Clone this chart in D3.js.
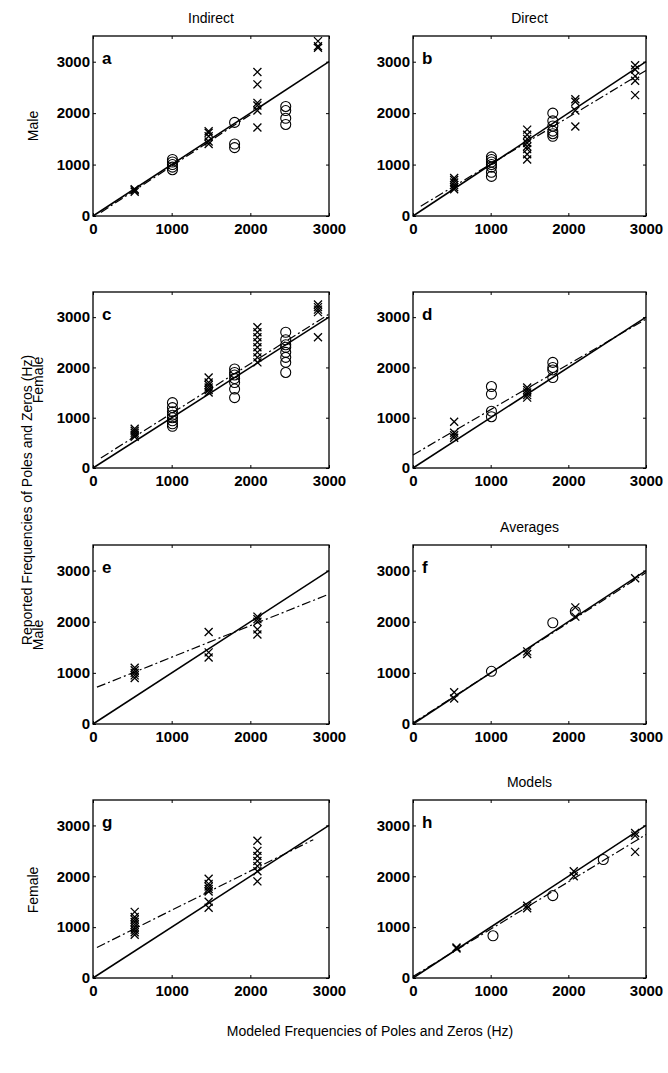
<!DOCTYPE html>
<html><head><meta charset="utf-8">
<script src="https://cdn.jsdelivr.net/npm/d3@7/dist/d3.min.js"></script>
<style>body{margin:0;background:#fff}text{font-family:"Liberation Sans",Arial,sans-serif}</style>
</head><body><svg id="c" width="668" height="1073"></svg>
<script>
const panelLetters = ["a","b","c","d","e","f","g","h"];
const ticks = [0,1000,2000,3000];
// crosses [x, y] and circles [x, y] per panel
const crossesA = [[530,470],[530,500],[530,520],[1470,1400],[1470,1450],[1470,1550],[1470,1620],[1470,1650],[2090,2800],[2090,2560],[2090,2200],[2090,2150],[2090,2050],[2090,1720],[2860,3400],[2860,3300],[2860,3270]];
const circlesA = [[1010,900],[1010,950],[1010,1000],[1010,1050],[1010,1100],[1800,1820],[1800,1400],[1800,1330],[2450,2130],[2450,2050],[2450,1900],[2450,1780]];
const crossesB = [[530,520],[530,560],[530,600],[530,650],[530,700],[530,740],[1470,1100],[1470,1200],[1470,1300],[1470,1350],[1470,1420],[1470,1500],[1470,1580],[1470,1680],[2090,2270],[2090,2220],[2090,2050],[2090,1740],[2860,2930],[2860,2850],[2860,2720],[2860,2630],[2860,2350]];
const circlesB = [[1010,770],[1010,850],[1010,950],[1010,1000],[1010,1050],[1010,1100],[1010,1150],[1800,2000],[1800,1850],[1800,1750],[1800,1650],[1800,1600],[1800,1550]];
const crossesC = [[530,620],[530,660],[530,700],[530,740],[530,780],[1470,1500],[1470,1550],[1470,1600],[1470,1650],[1470,1700],[1470,1800],[2090,2100],[2090,2200],[2090,2300],[2090,2400],[2090,2500],[2090,2600],[2090,2700],[2090,2800],[2860,3100],[2860,3150],[2860,3200],[2860,3250],[2860,2600]];
const circlesC = [[1010,830],[1010,880],[1010,940],[1010,1000],[1010,1050],[1010,1120],[1010,1200],[1010,1300],[1800,1400],[1800,1570],[1800,1700],[1800,1780],[1800,1850],[1800,1900],[1800,1970],[2450,1900],[2450,2100],[2450,2200],[2450,2300],[2450,2400],[2450,2450],[2450,2550],[2450,2700]];
const crossesD = [[530,600],[530,650],[530,700],[530,920],[1470,1400],[1470,1450],[1470,1500],[1470,1550],[1470,1600]];
const circlesD = [[1010,1020],[1010,1130],[1010,1470],[1010,1620],[1800,1800],[1800,1950],[1800,2000],[1800,2100]];
const crossesE = [[530,900],[530,950],[530,1000],[530,1050],[530,1100],[1470,1800],[1470,1400],[1470,1300],[2090,2100],[2090,2050],[2090,2000],[2090,1850],[2090,1750]];
const circlesE = [];
const crossesF = [[530,500],[530,620],[1470,1370],[1470,1420],[2090,2100],[2090,2280],[2860,2850]];
const circlesF = [[1010,1030],[1800,1980],[2090,2200]];
const crossesG = [[530,850],[530,900],[530,950],[530,1000],[530,1050],[530,1100],[530,1150],[530,1200],[530,1300],[1470,1380],[1470,1500],[1470,1700],[1470,1750],[1470,1800],[1470,1850],[1470,1950],[2090,1900],[2090,2100],[2090,2200],[2090,2300],[2090,2400],[2090,2500],[2090,2700]];
const circlesG = [];
const crossesH = [[560,580],[560,600],[1470,1370],[1470,1420],[2070,2000],[2070,2100],[2860,2850],[2860,2800],[2860,2480]];
const circlesH = [[1030,830],[1800,1620],[2450,2330]];
// dash-dot regression lines: [x0, y0, x1, y1]
const fitLines = [[100,70,2000,1970],[100,190,3000,2830],[100,200,3000,3060],[0,260,3000,2960],[50,720,3000,2540],[0,20,3000,2960],[50,600,2800,2720],[0,30,3000,2820]];
const titles = {0:"Indirect",1:"Direct",5:"Averages",7:"Models"};

const crosses=[crossesA,crossesB,crossesC,crossesD,crossesE,crossesF,crossesG,crossesH];
const circles=[circlesA,circlesB,circlesC,circlesD,circlesE,circlesF,circlesG,circlesH];
const svg=d3.select("#c");
const colX=[[93,329],[413,646]];
const rowY=[[36,216],[292,468],[545,724],[800,978]];
for(let i=0;i<8;i++){
  const c=i%2,r=Math.floor(i/2);
  const x=d3.scaleLinear().domain([0,3000]).range(colX[c]);
  const y=d3.scaleLinear().domain([0,3500]).range([rowY[r][1],rowY[r][0]]);
  const g=svg.append("g");
  g.append("rect").attr("x",colX[c][0]).attr("y",rowY[r][0]).attr("width",colX[c][1]-colX[c][0]).attr("height",rowY[r][1]-rowY[r][0]).attr("fill","none").attr("stroke","#000").attr("stroke-width",1.3);
  const fmt=d3.format("d");
  const ax=d3.axisBottom(x).tickValues(ticks).tickSize(-3).tickPadding(4).tickFormat(fmt);
  const ay=d3.axisLeft(y).tickValues(ticks).tickSize(-3).tickPadding(3).tickFormat(fmt);
  const gx=g.append("g").attr("transform",`translate(0,${rowY[r][1]})`).call(ax);
  const gy=g.append("g").attr("transform",`translate(${colX[c][0]},0)`).call(ay);
  g.append("g").attr("transform",`translate(0,${rowY[r][0]})`).call(d3.axisTop(x).tickValues(ticks).tickSize(-3).tickFormat(""));
  g.append("g").attr("transform",`translate(${colX[c][1]},0)`).call(d3.axisRight(y).tickValues(ticks).tickSize(-3).tickFormat(""));
  g.selectAll(".domain").remove();
  g.selectAll(".tick text").attr("font-size",15).attr("font-weight","bold").attr("fill","#000").style("font-family","Liberation Sans, Arial");
  gx.selectAll(".tick text").attr("dy","0.9em");
  g.append("line").attr("x1",x(0)).attr("y1",y(0)).attr("x2",x(3000)).attr("y2",y(3000)).attr("stroke","#000").attr("stroke-width",1.5);
  const f=fitLines[i];
  g.append("line").attr("x1",x(f[0])).attr("y1",y(f[1])).attr("x2",x(f[2])).attr("y2",y(f[3])).attr("stroke","#000").attr("stroke-width",1.2).attr("stroke-dasharray","9,3,2,3");
  const s=4;
  crosses[i].forEach(p=>{
    const px=x(p[0]),py=y(p[1]);
    g.append("path").attr("d",`M${px-s},${py-s}L${px+s},${py+s}M${px-s},${py+s}L${px+s},${py-s}`).attr("stroke","#000").attr("stroke-width",1.3);
  });
  circles[i].forEach(p=>{
    g.append("circle").attr("cx",x(p[0])).attr("cy",y(p[1])).attr("r",5).attr("fill","none").attr("stroke","#000").attr("stroke-width",1.1);
  });
  g.append("text").attr("x",colX[c][0]+9).attr("y",rowY[r][0]+28).attr("font-size",17).attr("font-weight","bold").text(panelLetters[i]);
  if(titles[i]) g.append("text").attr("x",(colX[c][0]+colX[c][1])/2).attr("y",rowY[r][0]-13).attr("text-anchor","middle").attr("font-size",14).text(titles[i]);
}
function vlabel(t,x,y){svg.append("text").attr("transform",`translate(${x},${y}) rotate(-90)`).attr("text-anchor","middle").attr("font-size",14).text(t);}
vlabel("Male",38,126);
vlabel("Female",43,380);
vlabel("Male",43,635);
vlabel("Female",38,890);
vlabel("Reported Frequencies of Poles and Zeros (Hz)",32,500);
svg.append("text").attr("x",370).attr("y",1036).attr("text-anchor","middle").attr("font-size",14).text("Modeled Frequencies of Poles and Zeros (Hz)");
</script></body></html>
